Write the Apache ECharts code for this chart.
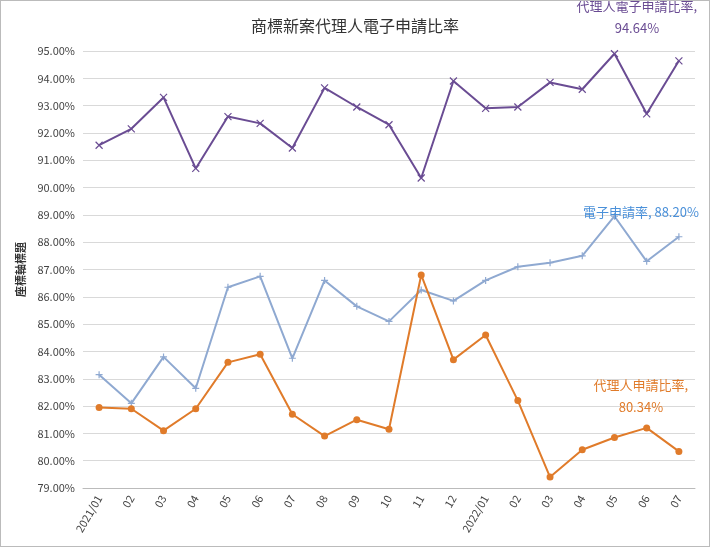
<!DOCTYPE html>
<html><head><meta charset="utf-8">
<script src="https://cdn.jsdelivr.net/npm/echarts@6/dist/echarts.min.js"></script>
<style>html,body{margin:0;padding:0;background:#fff}#c{width:710px;height:547px;box-sizing:border-box;border:1px solid #bbb}</style>
</head><body><div id="c"></div>
<script>
const categories=['2021/01','02','03','04','05','06','07','08','09','10','11','12','2022/01','02','03','04','05','06','07'];
const agentEApply=[91.55,92.15,93.3,90.7,92.6,92.35,91.45,93.65,92.95,92.3,90.35,93.9,92.9,92.95,93.85,93.6,94.9,92.7,94.64];
const eApply=[83.15,82.1,83.8,82.65,86.35,86.75,83.75,86.6,85.65,85.1,86.25,85.85,86.6,87.1,87.25,87.5,88.95,87.3,88.20];
const agentApply=[81.95,81.9,81.1,81.9,83.6,83.9,81.7,80.9,81.5,81.15,86.8,83.7,84.6,82.2,79.4,80.4,80.85,81.2,80.34];
const font='"Noto Sans CJK TC","Noto Sans",sans-serif';
const last=categories.length-1;
const chart=echarts.init(document.getElementById('c'));
chart.setOption({
  animation:false,
  title:{text:'商標新案代理人電子申請比率',left:'center',top:12,textStyle:{fontSize:16,fontWeight:'normal',color:'#333',fontFamily:font}},
  grid:{left:82,right:14,top:50,bottom:58},
  xAxis:{type:'category',data:categories,boundaryGap:true,
    axisLine:{lineStyle:{color:'#bbb'}},axisTick:{show:false},
    axisLabel:{rotate:60,color:'#444',fontSize:11,fontFamily:font,interval:0}},
  yAxis:{type:'value',min:79,max:95,interval:1,name:'座標軸標題',nameLocation:'middle',nameGap:56,nameRotate:90,
    nameTextStyle:{fontSize:11,fontWeight:'bold',color:'#333',fontFamily:font},
    axisLine:{show:false},axisTick:{show:false},
    splitLine:{lineStyle:{color:'#d9d9d9'}},
    axisLabel:{formatter:v=>v.toFixed(2)+'%',color:'#444',fontSize:11,fontFamily:font}},
  series:[
    {name:'代理人電子申請比率',type:'line',data:agentEApply,symbol:'path://M0,0L10,10M10,0L0,10',symbolSize:7,
      lineStyle:{color:'#6a4c93',width:2},itemStyle:{color:'#6a4c93',borderColor:'#6a4c93',borderWidth:1.2},
      label:{show:true,position:'top',distance:14,color:'#6a4c93',fontSize:13,fontFamily:font,align:'center',offset:[-42,-4],lineHeight:22,
        formatter:p=>p.dataIndex===last?'代理人電子申請比率,\n'+p.value.toFixed(2)+'%':''}},
    {name:'電子申請率',type:'line',data:eApply,symbol:'path://M5,0L5,10M0,5L10,5',symbolSize:7,
      lineStyle:{color:'#8fa9d1',width:2},itemStyle:{color:'#8fa9d1',borderColor:'#8fa9d1',borderWidth:1.2},
      label:{show:true,position:'top',distance:14,color:'#4a90d9',fontSize:13,fontFamily:font,align:'center',offset:[-38,0],
        formatter:p=>p.dataIndex===last?'電子申請率, '+p.value.toFixed(2)+'%':''}},
    {name:'代理人申請比率',type:'line',data:agentApply,symbol:'circle',symbolSize:7,
      lineStyle:{color:'#e07b2a',width:2},itemStyle:{color:'#e07b2a'},
      label:{show:true,position:'top',distance:30,color:'#e07b2a',fontSize:13,fontFamily:font,align:'center',offset:[-38,0],lineHeight:22,
        formatter:p=>p.dataIndex===last?'代理人申請比率,\n'+p.value.toFixed(2)+'%':''}}
  ]
});
</script></body></html>
